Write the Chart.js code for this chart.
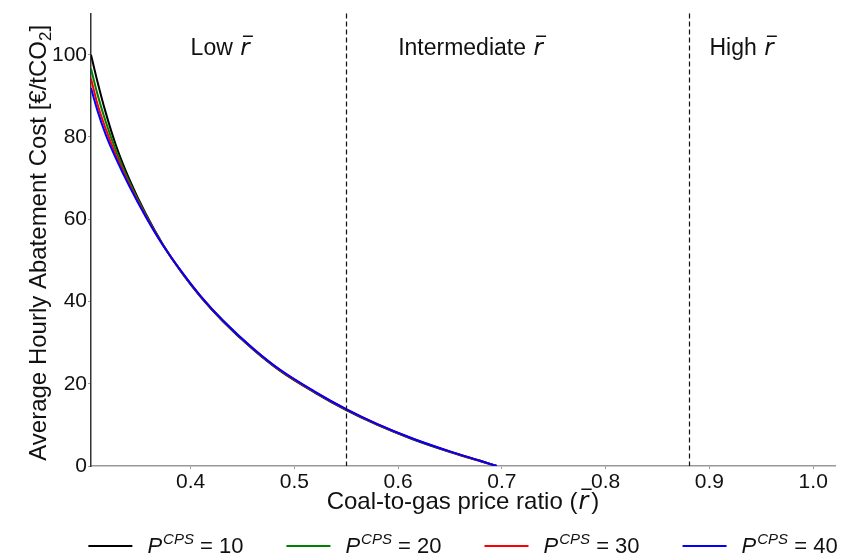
<!DOCTYPE html>
<html>
<head>
<meta charset="utf-8">
<script src="https://cdn.jsdelivr.net/npm/chart.js@4.4.0/dist/chart.umd.min.js"></script>
<style>
  html, body { margin: 0; padding: 0; background: #ffffff; }
  #wrap { width: 843px; height: 557px; }
</style>
</head>
<body>
<div id="wrap"><canvas id="chart" width="843" height="557"></canvas></div>
<script>
// Coal-to-gas price ratio (r̄) sample points shared by every series
const ratio = [0.304, 0.31, 0.318, 0.328, 0.341, 0.357, 0.373, 0.392, 0.41, 0.431,
               0.46, 0.486, 0.52, 0.55, 0.58, 0.614, 0.65, 0.68, 0.695];

// Average hourly abatement cost [€/tCO2] for each carbon price support level
const costP10 = [100, 93.7, 86.1, 78.0, 69.7, 61.2, 54.0, 46.8, 41.0, 35.2,
                 28.4, 23.2, 17.8, 13.6, 10.0, 6.5, 3.4, 1.1, 0];
const costP20 = [96.6, 90.6, 83.85, 76.7, 69.0, 60.9, 53.9, 46.9, 41.1, 35.3,
                 28.5, 23.3, 17.9, 13.7, 10.1, 6.6, 3.5, 1.2, 0];
const costP30 = [94.2, 88.2, 82.1, 75.6, 68.4, 60.65, 53.85, 46.95, 41.15, 35.35,
                 28.55, 23.35, 17.95, 13.75, 10.15, 6.65, 3.5, 1.2, 0];
const costP40 = [91.9, 86.6, 80.7, 74.8, 68.0, 60.5, 53.8, 47.0, 41.2, 35.45,
                 28.65, 23.45, 18.05, 13.85, 10.2, 6.7, 3.55, 1.2, 0];

const cpsLevels = ['10', '20', '30', '40'];
const seriesCosts = [costP10, costP20, costP30, costP40];
const seriesColors = ['#000000', '#008000', '#ff0000', '#0000ff'];

// Axis ticks
const xTickValues = [0.4, 0.5, 0.6, 0.7, 0.8, 0.9, 1.0];
const yTickValues = [0, 20, 40, 60, 80, 100];

// Regime boundaries and their labels
const regimeBounds = [0.55, 0.88];
const regimeNames = ['Low', 'Intermediate', 'High'];
const regimeLabelAt = [0.4, 0.6, 0.9];
const regimeLabelLevel = 100;

const SANS = '"Liberation Sans", Arial, sans-serif';
const MATH = '"DejaVu Sans", sans-serif';

// Draws "r" in italic with an overline bar; returns the width used
function drawRBar(ctx, x, baseline, size) {
  ctx.save();
  ctx.font = 'italic ' + size + 'px ' + MATH;
  ctx.textAlign = 'left';
  ctx.textBaseline = 'alphabetic';
  const w = ctx.measureText('r').width;
  ctx.fillText('r', x, baseline);
  ctx.strokeStyle = ctx.fillStyle;
  ctx.lineWidth = 1.5;
  ctx.beginPath();
  const by = Math.round(baseline - 0.82 * size) + 0.25;
  ctx.moveTo(x + 0.12 * size, by);
  ctx.lineTo(x + w + 0.14 * size, by);
  ctx.stroke();
  ctx.restore();
  return w;
}

const datasets = seriesCosts.map((vals, i) => ({
  label: 'P^CPS = ' + cpsLevels[i],
  data: ratio.map((r, k) => ({ x: r, y: vals[k] })),
  borderColor: seriesColors[i],
  backgroundColor: seriesColors[i],
  borderWidth: 2,
  pointRadius: 0,
  fill: false,
  cubicInterpolationMode: 'monotone',
  order: seriesCosts.length - i
}));

const overlay = {
  id: 'overlay',
  afterDatasetsDraw(chart) {
    const ctx = chart.ctx;
    const xs = chart.scales.x, ys = chart.scales.y;
    const area = chart.chartArea;

    // dashed regime boundaries
    ctx.save();
    ctx.strokeStyle = '#111';
    ctx.lineWidth = 1.2;
    ctx.setLineDash([5, 3]);
    regimeBounds.forEach(b => {
      const px = Math.round(xs.getPixelForValue(b)) + 0.5;
      ctx.beginPath();
      ctx.moveTo(px, area.top);
      ctx.lineTo(px, area.bottom);
      ctx.stroke();
    });
    ctx.restore();

    // regime labels
    ctx.save();
    ctx.fillStyle = '#111';
    ctx.textAlign = 'left';
    ctx.textBaseline = 'alphabetic';
    regimeNames.forEach((name, i) => {
      const px = xs.getPixelForValue(regimeLabelAt[i]);
      const py = ys.getPixelForValue(regimeLabelLevel);
      ctx.font = '23px ' + SANS;
      const t = name + ' ';
      ctx.fillText(t, px, py);
      const w = ctx.measureText(t).width;
      drawRBar(ctx, px + w + 1, py, 23);
    });
    ctx.restore();
  },
  afterDraw(chart) {
    const ctx = chart.ctx;
    const area = chart.chartArea;
    ctx.save();
    ctx.fillStyle = '#111';
    ctx.textBaseline = 'alphabetic';
    ctx.textAlign = 'left';

    // x-axis title
    const pre = 'Coal-to-gas price ratio (';
    ctx.font = 'italic 24px ' + MATH;
    const rw = ctx.measureText('r').width;
    ctx.font = '24px ' + SANS;
    const preW = ctx.measureText(pre).width;
    const postW = ctx.measureText(')').width;
    const totalW = preW + rw + 4 + postW;
    const x0 = (area.left + area.right) / 2 - totalW / 2;
    const xb = 509;
    ctx.fillText(pre, x0, xb);
    drawRBar(ctx, x0 + preW + 1, xb, 24);
    ctx.font = '24px ' + SANS;
    ctx.fillText(')', x0 + preW + rw + 4, xb);

    // y-axis title with subscript
    ctx.save();
    const cy = (area.top + area.bottom) / 2 + 3;
    ctx.translate(46, cy);
    ctx.rotate(-Math.PI / 2);
    const main = 'Average Hourly Abatement Cost [€/tCO';
    ctx.font = '24px ' + SANS;
    const mw = ctx.measureText(main).width;
    ctx.font = '17px ' + SANS;
    const sw = ctx.measureText('2').width;
    ctx.font = '24px ' + SANS;
    const cw = ctx.measureText(']').width;
    const lx = -(mw + sw + cw) / 2;
    ctx.fillText(main, lx, 0);
    ctx.font = '17px ' + SANS;
    ctx.fillText('2', lx + mw, 5);
    ctx.font = '24px ' + SANS;
    ctx.fillText(']', lx + mw + sw, 0);
    ctx.restore();

    // legend
    const lineLen = 44, pad = 15, colGap = 43;
    const items = chart.data.datasets.map((d, i) => {
      ctx.font = 'italic 22px ' + SANS;
      const pw = ctx.measureText('P').width;
      ctx.font = 'italic 15px ' + SANS;
      const supW = ctx.measureText('CPS').width;
      ctx.font = '22px ' + SANS;
      const restW = ctx.measureText(' = ' + cpsLevels[i]).width;
      return { color: d.borderColor, pw, supW, restW, w: lineLen + pad + pw + supW + 1 + restW };
    });
    const total = items.reduce((s, it) => s + it.w, 0) + colGap * (items.length - 1);
    let lx0 = (area.left + area.right) / 2 - total / 2;
    const ly = 546, lb = 553;
    items.forEach((it, i) => {
      ctx.strokeStyle = it.color;
      ctx.lineWidth = 2.2;
      ctx.beginPath();
      ctx.moveTo(lx0, ly);
      ctx.lineTo(lx0 + lineLen, ly);
      ctx.stroke();
      let tx = lx0 + lineLen + pad;
      ctx.font = 'italic 22px ' + SANS;
      ctx.fillText('P', tx, lb);
      tx += it.pw + 1;
      ctx.font = 'italic 15px ' + SANS;
      ctx.fillText('CPS', tx, lb - 9);
      tx += it.supW;
      ctx.font = '22px ' + SANS;
      ctx.fillText(' = ' + cpsLevels[i], tx, lb);
      lx0 += it.w + colGap;
    });
    ctx.restore();
  }
};

new Chart(document.getElementById('chart'), {
  type: 'line',
  data: { datasets },
  options: {
    responsive: false,
    animation: false,
    devicePixelRatio: 1,
    layout: { padding: { top: 13, right: 8, bottom: 0, left: 0 } },
    plugins: { legend: { display: false }, tooltip: { enabled: false } },
    scales: {
      x: {
        type: 'linear',
        min: 0.304,
        max: 1.021,
        afterBuildTicks: s => { s.ticks = xTickValues.map(v => ({ value: v })); },
        afterFit: s => { s.height = 91; },
        ticks: {
          callback: v => Number(v).toFixed(1),
          font: { family: SANS, size: 21 },
          color: '#111',
          padding: 1,
          maxRotation: 0,
          autoSkip: false
        },
        grid: { display: true, drawOnChartArea: false, drawTicks: true, tickLength: 3, color: '#999' },
        border: { display: true, color: '#999', width: 1.5 }
      },
      y: {
        type: 'linear',
        min: 0,
        max: 110,
        afterBuildTicks: s => { s.ticks = yTickValues.map(v => ({ value: v })); },
        afterFit: s => { s.width = 91; },
        ticks: {
          font: { family: SANS, size: 21 },
          color: '#111',
          padding: 1
        },
        grid: { display: true, drawOnChartArea: false, drawTicks: true, tickLength: 3, color: '#999' },
        border: { display: true, color: '#333', width: 1.5 }
      }
    }
  },
  plugins: [overlay]
});
</script>
</body>
</html>
